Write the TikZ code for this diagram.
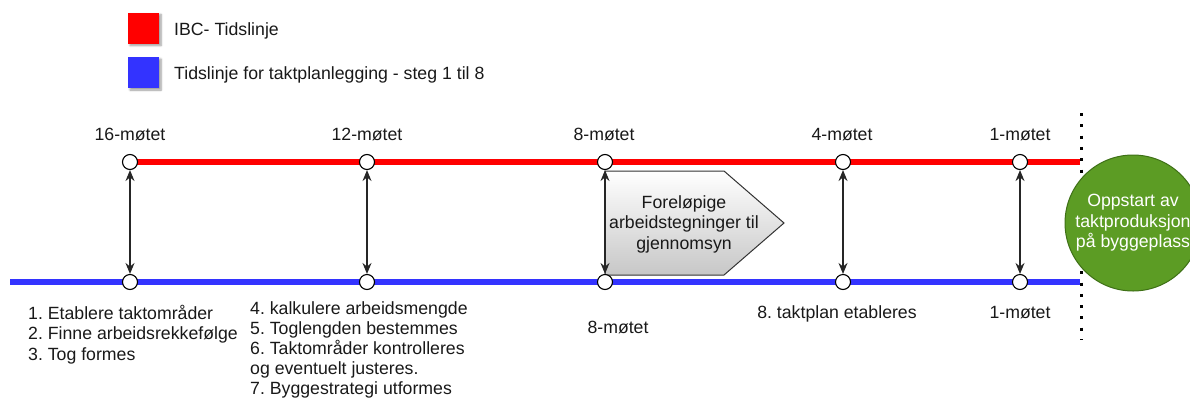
\documentclass[tikz,border=0pt]{standalone}
\usepackage{fontspec}
\setmainfont{Liberation Sans}
\usetikzlibrary{arrows.meta,shadows.blur}
\definecolor{tlred}{RGB}{255,0,0}
\definecolor{tlblue}{RGB}{51,51,255}
\definecolor{txt}{RGB}{25,25,25}
\definecolor{startgreen}{RGB}{92,156,36}
\definecolor{startedge}{RGB}{62,112,22}
\frenchspacing

\begin{document}
\begin{tikzpicture}[x=1pt,y=-1pt,
  every node/.style={font=\fontsize{17.7}{20.5}\selectfont, text=txt, inner sep=0pt},
  meet/.style={circle, draw=black, line width=1.1pt, fill=white, minimum size=15pt},
  redline/.style={tlred, line width=5.5pt},
  blueline/.style={tlblue, line width=5.5pt},
  link/.style={{Stealth[length=11pt,width=9pt]}-{Stealth[length=11pt,width=9pt]}, line width=1.2pt, black!85},
  legendbox/.style={minimum size=31pt, blur shadow={shadow xshift=2pt, shadow yshift=-2pt, shadow blur steps=6}},
  steplist/.style={anchor=north west, align=left},
  phase/.style={draw=black!80, line width=1pt, top color=white, bottom color=black!22},
  startnode/.style={circle, fill=startgreen, draw=startedge, line width=1pt, minimum size=136pt,
    align=center, text=white}
]
\useasboundingbox (0,0) rectangle (1190,399);
\clip (0,0) rectangle (1190,399);

% legend
\node[legendbox, fill=tlred] (legred) at (143.5,28) {};
\node[legendbox, fill=tlblue] (legblue) at (143.5,72.5) {};
\node[anchor=base west] (legredtxt) at (174,35) {IBC- Tidslinje};
\node[anchor=base west] (legbluetxt) at (174,79) {Tidslinje for taktplanlegging - steg 1 til 8};

% end of the timelines
\coordinate (redend) at (1080,162);
\coordinate (bluestart) at (10,282);
\coordinate (blueend) at (1080,282);

% dotted boundary before start-up
\coordinate (dtop) at (1081,113);
\coordinate (dbot) at (1081,340);
\draw[line width=3pt, dash pattern=on 3pt off 8.3pt] (dtop) -- (dbot);

% meeting positions on the IBC line
\coordinate (p16) at (130,162);

% timelines
\draw[redline] (p16) -- (redend);
\draw[blueline] (bluestart) -- (blueend);

% preliminary drawings phase
\coordinate (ph1) at (605,171);
\coordinate (ph2) at (724,171);
\coordinate (ph3) at (784,223);
\coordinate (ph4) at (724,275);
\coordinate (ph5) at (605,275);
\draw[phase] (ph1) -- (ph2) -- (ph3) -- (ph4) -- (ph5) -- cycle;
\node[align=center] (phasetxt) at (684,224) {Foreløpige\\arbeidstegninger til\\gjennomsyn};

% meeting circles on both lines
\foreach \m/\x in {16/130, 12/367, 8/605, 4/843, 1/1020} {
  \node[meet] (t\m) at (\x,162) {};
  \node[meet] (b\m) at (\x,282) {};
  \draw[link] (t\m) -- (b\m);
}

% meeting labels
\node[anchor=base] (l16) at (130,140) {16-møtet};
\node[anchor=base] (l12) at (367,140) {12-møtet};
\node[anchor=base] (l8) at (604,140) {8-møtet};
\node[anchor=base] (l4) at (842,140) {4-møtet};
\node[anchor=base] (l1) at (1020,140) {1-møtet};

% steps along the planning timeline
\node[steplist] (s13) at (28,304.5) {\strut 1. Etablere taktområder\\2. Finne arbeidsrekkefølge\\3. Tog formes};
\node[steplist, font=\fontsize{17.7}{20}\selectfont] (s47) at (250,300) {\strut 4. kalkulere arbeidsmengde\\5. Toglengden bestemmes\\6. Taktområder kontrolleres\\og eventuelt justeres.\\7. Byggestrategi utformes};
\node[anchor=base] (b8txt) at (618,333) {8-møtet};
\node[anchor=base] (s8) at (837,318) {8. taktplan etableres};
\node[anchor=base] (b1txt) at (1020,318) {1-møtet};

% start of takt production
\node[startnode] (start) at (1133,223) {Oppstart av\\taktproduksjon\\på byggeplass};
\end{tikzpicture}
\end{document}
